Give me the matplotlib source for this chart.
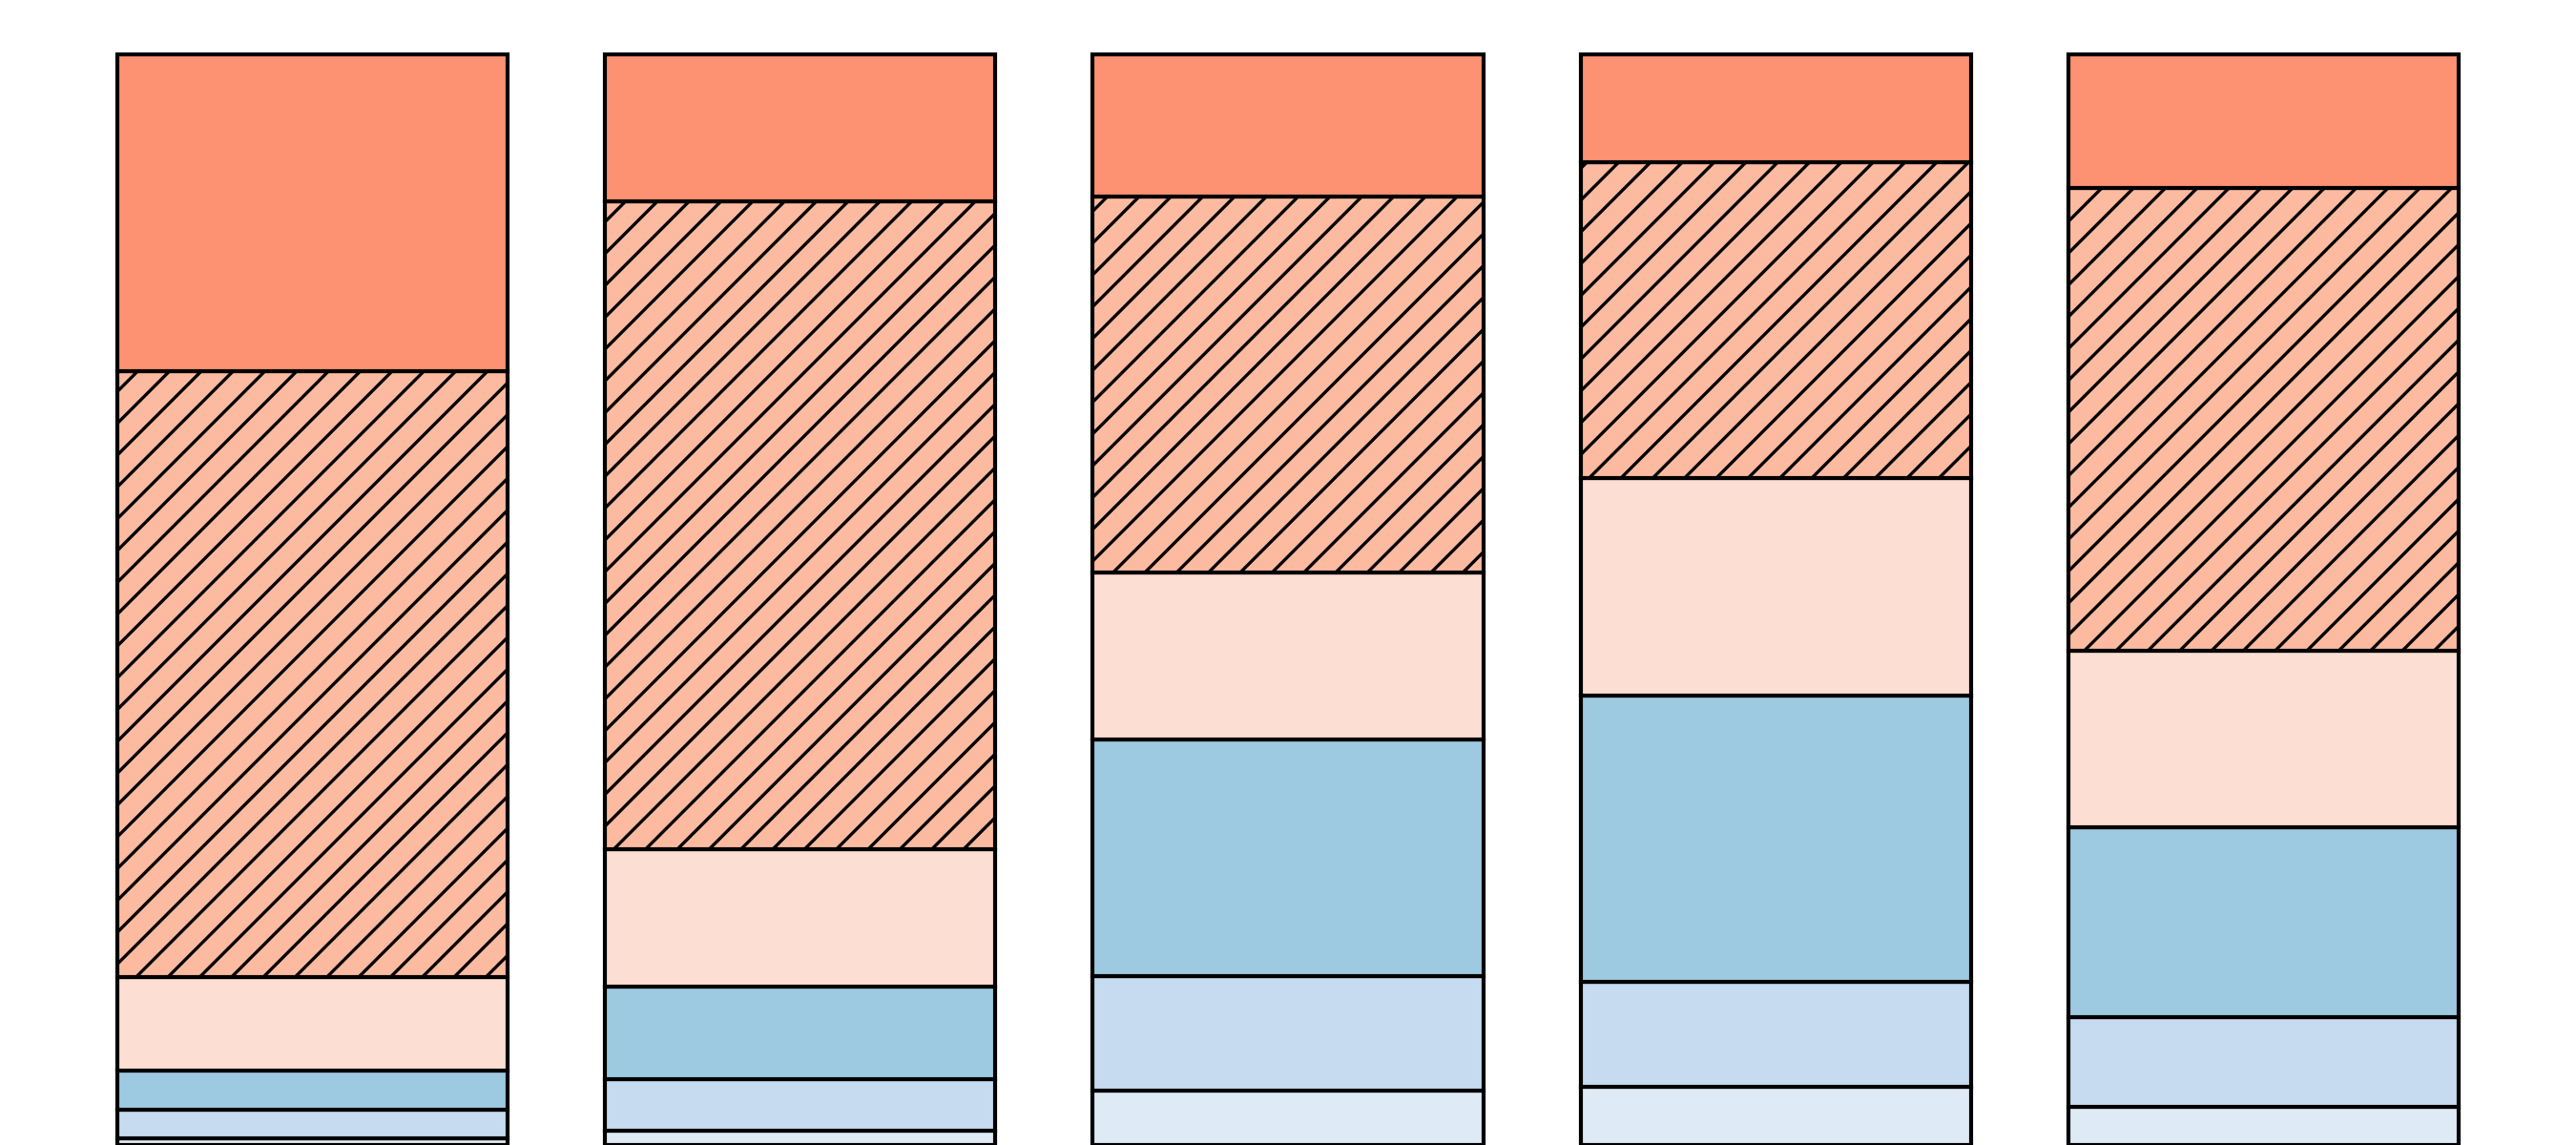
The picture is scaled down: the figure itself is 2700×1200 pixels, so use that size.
import matplotlib
matplotlib.use("Agg")
import matplotlib.pyplot as plt
import numpy as np

categories = ["A", "B", "C", "D", "E"]
# stacked segments, bottom to top (percent)
seg_lightest = [0.6, 1.3, 5.0, 5.3, 3.5]
seg_light = [2.6, 4.75, 10.5, 9.7, 8.2]
seg_blue = [3.65, 8.45, 21.7, 26.2, 17.4]
seg_peach = [8.55, 12.65, 15.3, 19.95, 16.2]
seg_hatched = [55.6, 59.35, 34.5, 29.0, 42.5]
seg_salmon = [29.0, 13.5, 13.0, 9.85, 12.2]

series = [seg_lightest, seg_light, seg_blue, seg_peach, seg_hatched, seg_salmon]
colors = ["#deebf7", "#c6dbef", "#9ecae1", "#fcdfd2", "#fcbba1", "#fc9272"]
hatches = [None, None, None, None, "//", None]

plt.rcParams["hatch.linewidth"] = 1.2

fig = plt.figure(figsize=(13.5, 6), dpi=200)
ax = fig.add_axes([0, 0, 1, 1])
x = np.arange(len(categories))
bottom = np.zeros(len(categories))
for vals, col, h in zip(series, colors, hatches):
    ax.bar(x, vals, width=0.8, bottom=bottom, color=col, edgecolor="black",
           linewidth=1.5, hatch=h)
    bottom += np.array(vals)
ax.axis("off")
fig.savefig("out.png", dpi=200)
